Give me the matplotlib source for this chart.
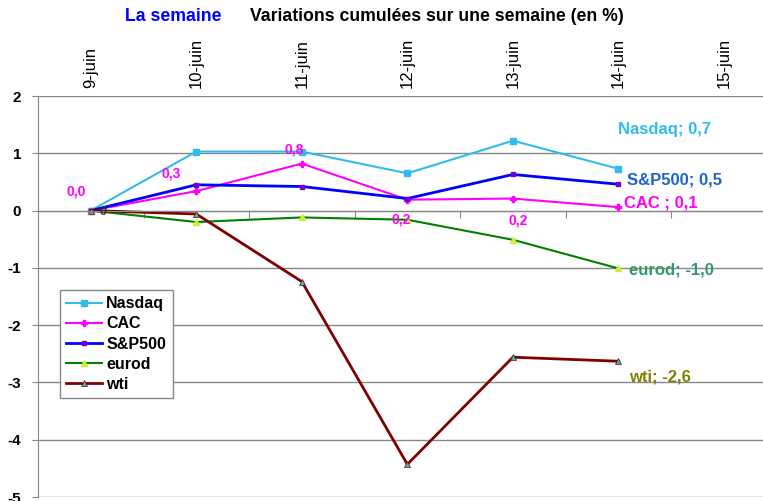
import matplotlib.pyplot as plt
from matplotlib.ticker import FixedLocator

plt.rcParams['font.family'] = ['Liberation Sans', 'DejaVu Sans']

dates = ["9-juin", "10-juin", "11-juin", "12-juin", "13-juin", "14-juin", "15-juin"]
nasdaq = [0.0, 1.03, 1.03, 0.65, 1.22, 0.73]
cac = [0.0, 0.34, 0.82, 0.19, 0.21, 0.06]
sp500 = [0.0, 0.45, 0.42, 0.21, 0.63, 0.46]
eurod = [0.0, -0.20, -0.12, -0.16, -0.51, -1.01]
wti = [0.0, -0.06, -1.24, -4.43, -2.56, -2.63]

x = list(range(len(nasdaq)))

fig = plt.figure(figsize=(7.63, 5.01), dpi=100)
ax = fig.add_axes([38 / 763, 4 / 501, 1 - 38 / 763, 401 / 501])

ax.plot(x, nasdaq, color="#33BBEE", lw=1.5, marker="s", ms=5, label="Nasdaq")
ax.plot(x, cac, color="#FF00FF", lw=1.5, marker="P", ms=4, label="CAC")
ax.plot(x, sp500, color="#0000FF", lw=2, marker="s", ms=3.5, mfc="#7700CC", mec="#7700CC", label="S&P500")
ax.plot(x, eurod, color="#008000", lw=1.5, marker="^", ms=4, mfc="#CCEE33", mec="#CCEE33", label="eurod")
ax.plot(x, wti, color="#800000", lw=2, marker="^", ms=4, mfc="#33BBBB", mec="#800000", mew=0.5, label="wti")

ax.set_xlim(-0.5, 6.37)
ax.set_ylim(-5, 2)
ax.set_yticks(range(-5, 3))
ax.set_yticklabels([str(v) for v in range(-5, 3)], fontweight="bold", fontsize=11)
ax.yaxis.grid(True, color="#888888", lw=1)
ax.set_axisbelow(True)

for s in ["top", "right"]:
    ax.spines[s].set_visible(False)
ax.spines["left"].set_color("#888888")
ax.spines["bottom"].set_color("#888888")
ax.spines["bottom"].set_position(("data", 0))
ax.xaxis.set_major_locator(FixedLocator([i + 0.5 for i in range(6)]))
ax.set_xticklabels([])
ax.tick_params(axis="x", direction="out", length=5, color="#888888")
ax.tick_params(axis="y", direction="out", length=4, color="#888888", pad=8)

top = ax.secondary_xaxis("top")
top.set_xticks(range(len(dates)))
top.set_xticklabels(dates, rotation=90, fontsize=12)
top.tick_params(length=0, pad=6)
top.spines["top"].set_visible(False)

# value labels
ax.text(-0.14, 0.33, "0,0", color="#FF00FF", fontsize=10, fontweight="bold", ha="center", va="center")
ax.text(0.76, 0.65, "0,3", color="#FF00FF", fontsize=10, fontweight="bold", ha="center", va="center")
ax.text(1.93, 1.06, "0,8", color="#FF00FF", fontsize=10, fontweight="bold", ha="center", va="center")
ax.text(2.94, -0.16, "0,2", color="#FF00FF", fontsize=10, fontweight="bold", ha="center", va="center")
ax.text(4.05, -0.17, "0,2", color="#FF00FF", fontsize=10, fontweight="bold", ha="center", va="center")
ax.text(0.12, -0.02, "0", color="#333333", fontsize=9, fontweight="bold", ha="center", va="center")

ax.text(5.0, 1.41, "Nasdaq; 0,7", color="#33BBEE", fontsize=12, fontweight="bold", va="center")
ax.text(5.08, 0.54, "S&P500; 0,5", color="#1E64C8", fontsize=12, fontweight="bold", va="center")
ax.text(5.05, 0.14, "CAC ; 0,1", color="#FF00FF", fontsize=12, fontweight="bold", va="center")
ax.text(5.1, -1.03, "eurod; -1,0", color="#339966", fontsize=12, fontweight="bold", va="center")
ax.text(5.1, -2.9, "wti; -2,6", color="#808000", fontsize=12, fontweight="bold", va="center")

leg = ax.legend(loc="upper left", bbox_to_anchor=(60 / 763, 1 - 290 / 501), bbox_transform=fig.transFigure,
                prop={"weight": "bold", "size": 11.5}, fancybox=False, framealpha=1, edgecolor="#888888",
                handlelength=2.2, handletextpad=0.3, labelspacing=0.32, borderpad=0.4, borderaxespad=0)
leg.get_frame().set_linewidth(1)

fig.text(0.227, 0.968, "La semaine", color="#0000FF", fontsize=12.7, fontweight="bold", ha="center", va="center")
fig.text(0.572, 0.968, "Variations cumulées sur une semaine (en %)", color="black", fontsize=12.7,
         fontweight="bold", ha="center", va="center")

fig.savefig("out.png", dpi=100)
